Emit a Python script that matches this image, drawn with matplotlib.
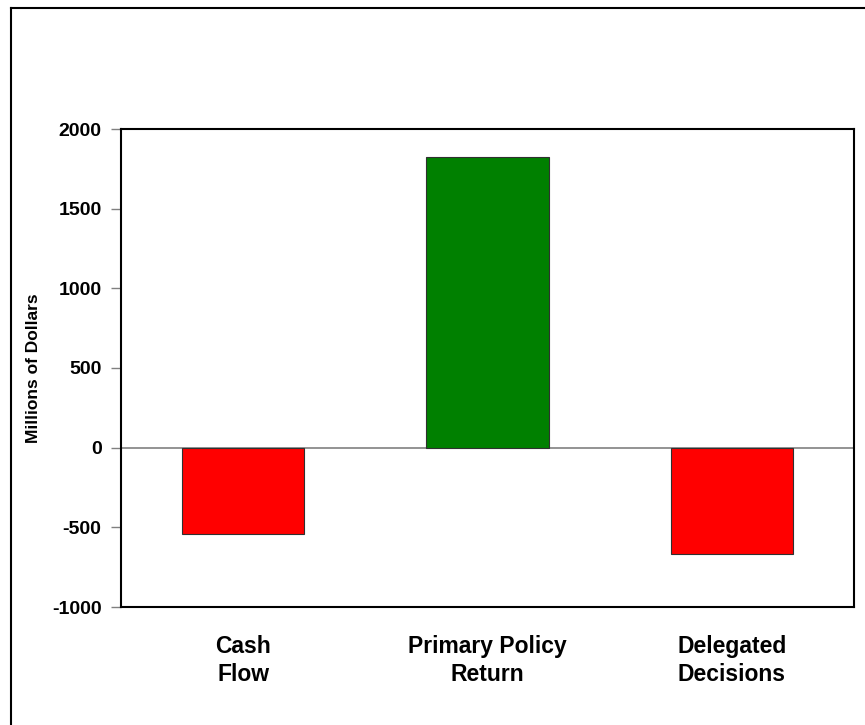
import matplotlib.pyplot as plt
from matplotlib.lines import Line2D

categories = ['Cash\nFlow', 'Primary Policy\nReturn', 'Delegated\nDecisions']
values = [-542, 1822, -665]
colors = ['#ff0000', '#008000', '#ff0000']
yticks = [-1000, -500, 0, 500, 1000, 1500, 2000]

plt.rcParams['font.family'] = ['Liberation Sans', 'DejaVu Sans']
plt.rcParams['font.weight'] = 'bold'

fig = plt.figure(figsize=(8.65, 7.25), dpi=100)
W, H = 865, 725
ax = fig.add_axes([121 / W, 1 - 607 / H, (854 - 121) / W, (607 - 129) / H])

x = range(len(categories))
ax.bar(x, values, width=0.5, color=colors, edgecolor='#303030', linewidth=0.8, zorder=3)
ax.axhline(0, color='#808080', linewidth=1.2, zorder=2)

ax.set_xlim(-0.5, 2.5)
ax.set_ylim(-1000, 2000)
ax.set_yticks(yticks)
ax.set_yticklabels([str(v) for v in yticks], fontsize=14, fontweight='bold')
ax.set_xticks(list(x))
ax.set_xticklabels(categories, fontsize=16.5, fontweight='bold', linespacing=1.3)
ax.tick_params(axis='x', length=0, pad=20)
ax.tick_params(axis='y', length=7, width=1, color='#808080', pad=7)
ax.set_ylabel('Millions of Dollars', fontsize=12.5, fontweight='bold', labelpad=8)

for s in ax.spines.values():
    s.set_linewidth(1.5)
    s.set_color('black')

# outer frame (only left and top edges visible)
fig.add_artist(Line2D([10.5 / W, 10.5 / W], [0, 1 - 7.5 / H], transform=fig.transFigure, color='black', linewidth=1.5))
fig.add_artist(Line2D([10.5 / W, 1], [1 - 7.5 / H, 1 - 7.5 / H], transform=fig.transFigure, color='black', linewidth=1.5))

fig.savefig('out.png', dpi=100)
plt.close()
